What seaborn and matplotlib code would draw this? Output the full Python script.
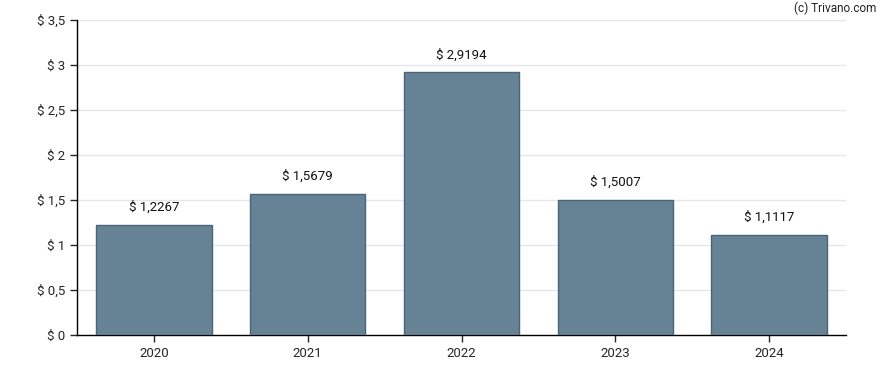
import pandas as pd
import matplotlib
matplotlib.use("Agg")
import matplotlib.pyplot as plt
import seaborn as sns

# dividend per year
years = ["2020", "2021", "2022", "2023", "2024"]
values = [1.2267, 1.5679, 2.9194, 1.5007, 1.1117]
y_ticks = [0, 0.5, 1, 1.5, 2, 2.5, 3, 3.5]

def fmt(v):
    s = f"{v:g}".replace(".", ",")
    return "$ " + s

df = pd.DataFrame({"year": years, "value": values})

sns.set_style("white")
plt.rcParams["font.family"] = ["Roboto", "DejaVu Sans"]

fig = plt.figure(figsize=(8.88, 3.70), dpi=100)
ax = fig.add_axes([77 / 888, 35 / 370, 769 / 888, 315 / 370])

sns.barplot(data=df, x="year", y="value", color="#668396", saturation=1, width=0.75,
            edgecolor="#4a6479", linewidth=1, ax=ax, zorder=3)

for i, v in enumerate(values):
    ax.text(i, v + 0.12, f"$ {v:.4f}".replace(".", ","), ha="center", va="bottom",
            fontsize=9.5, color="#111111")

ax.set_ylim(0, 3.5)
ax.set_xlim(-0.5, len(years) - 0.5)
ax.set_yticks(y_ticks)
ax.set_yticklabels([fmt(t) for t in y_ticks], fontsize=9.5)
ax.tick_params(axis="x", labelsize=9.5, length=5, width=1, direction="out", bottom=True)
ax.tick_params(axis="y", length=5, width=1, direction="out", left=True)
ax.yaxis.grid(True, color="#e6e6e6", linewidth=1, zorder=0)
ax.set_xlabel("")
ax.set_ylabel("")
for side in ["top", "right"]:
    ax.spines[side].set_visible(False)
for side in ["left", "bottom"]:
    ax.spines[side].set_color("black")
    ax.spines[side].set_linewidth(1)

fig.text(876 / 888, 1 - 8 / 370, "(c) Trivano.com", ha="right", va="center", fontsize=8.5,
         color="#222222")

fig.savefig("out.png", dpi=100)
